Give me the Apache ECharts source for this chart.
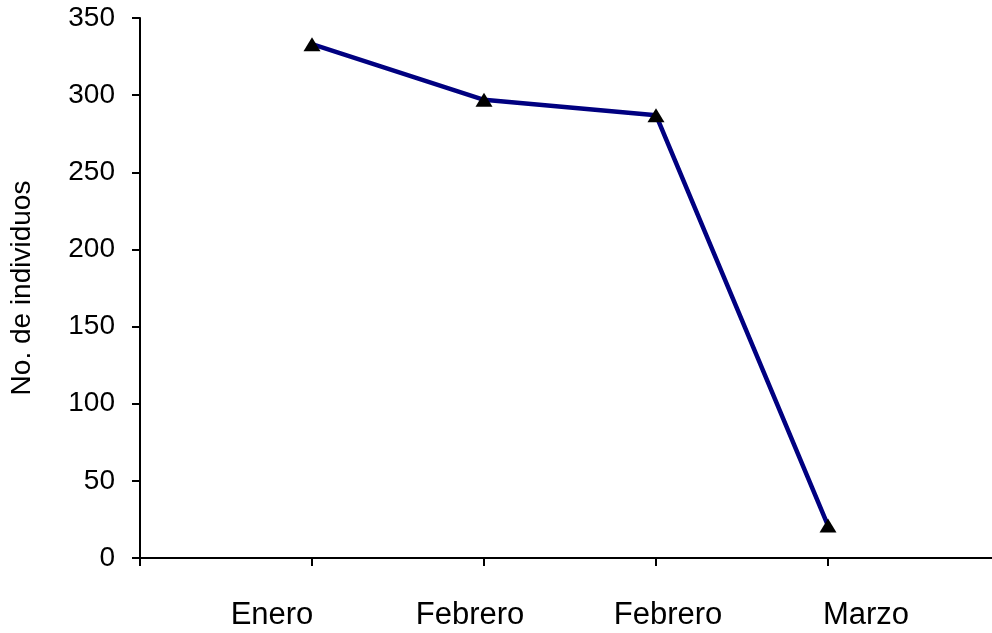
<!DOCTYPE html>
<html>
<head>
<meta charset="utf-8">
<script src="https://cdn.jsdelivr.net/npm/echarts@6/dist/echarts.min.js"></script>
<style>
  html, body { margin: 0; padding: 0; background: #fff; }
  #chart { width: 992px; height: 633px; }
</style>
</head>
<body>
<div id="chart"></div>
<script>
// slots: empty ones at both ends so the points sit on ticks 1..4
const slots = ["", "Enero", "Febrero", "Febrero", "Marzo", ""];
const months = ["Enero", "Febrero", "Febrero", "Marzo"];
const individuos = [null, 333, 297, 287, 21, null];
const yTicks = [0, 50, 100, 150, 200, 250, 300, 350];

const chart = echarts.init(document.getElementById("chart"));

const font = "'Liberation Sans', Arial, sans-serif";

chart.setOption({
  animation: false,
  grid: [
    {
      left: 140,
      top: 18,
      bottom: 75,
      width: 860,
      containLabel: false,
      outerBoundsMode: "none",
    },
    {
      // label row, spaced a bit wider than the ticks like the original
      left: 173,
      top: 18,
      bottom: 75,
      width: 792,
      containLabel: false,
      outerBoundsMode: "none",
    },
  ],
  xAxis: [
    {
      type: "category",
      gridIndex: 0,
      data: slots,
      boundaryGap: false,
      axisLine: { lineStyle: { color: "#000", width: 2 } },
      axisTick: { show: true, length: 8, lineStyle: { color: "#000", width: 2 } },
      axisLabel: { show: false },
      splitLine: { show: false },
    },
    {
      type: "category",
      gridIndex: 1,
      data: months,
      boundaryGap: true,
      axisLine: { show: false },
      axisTick: { show: false },
      axisLabel: {
        color: "#000",
        fontFamily: font,
        fontSize: 31,
        margin: 42,
        interval: 0,
      },
      splitLine: { show: false },
    },
  ],
  yAxis: [
    {
      type: "value",
      gridIndex: 0,
      min: yTicks[0],
      max: yTicks[yTicks.length - 1],
      interval: 50,
      name: "No. de individuos",
      nameLocation: "middle",
      nameGap: 104,
      nameTextStyle: { color: "#000", fontFamily: font, fontSize: 28 },
      axisLine: { show: true, lineStyle: { color: "#000", width: 2 } },
      axisTick: { show: true, length: 8, lineStyle: { color: "#000", width: 2 } },
      axisLabel: {
        color: "#000",
        fontFamily: font,
        fontSize: 28,
        margin: 25,
      },
      splitLine: { show: false },
    },
    {
      type: "value",
      gridIndex: 1,
      show: false,
    },
  ],
  series: [
    {
      type: "line",
      xAxisIndex: 0,
      yAxisIndex: 0,
      data: individuos,
      symbol: "triangle",
      symbolSize: [17, 14],
      itemStyle: { color: "#000" },
      lineStyle: { color: "#000080", width: 4.5 },
      z: 3,
    },
  ],
});
</script>
</body>
</html>
